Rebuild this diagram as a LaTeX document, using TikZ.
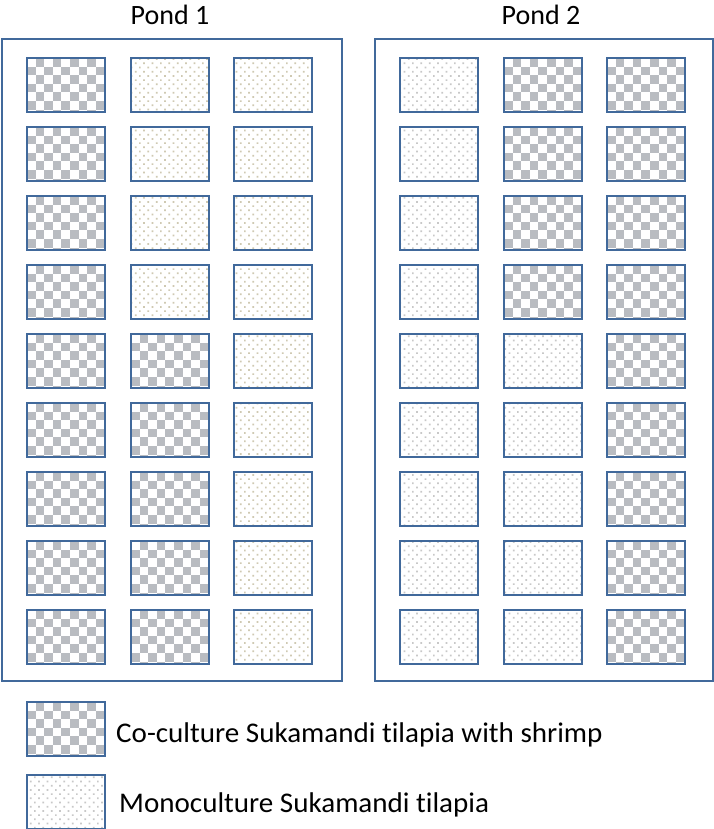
\documentclass[tikz,border=0pt]{standalone}
\usepackage{fontspec}
\setmainfont{Carlito}[Ligatures={NoCommon}]
\usetikzlibrary{patterns}
\definecolor{boxblue}{HTML}{41699B}
\definecolor{checkgray}{HTML}{B9BCC1}
\definecolor{tandot}{HTML}{CFC9B2}
\definecolor{graydot}{HTML}{C8C8C8}
\pgfdeclarepatternformonly{smalldots}{\pgfqpoint{-1pt}{-1pt}}{\pgfqpoint{9pt}{9pt}}{\pgfqpoint{8.4pt}{8.4pt}}{%
  \pgfpathrectangle{\pgfqpoint{0.4pt}{0.4pt}}{\pgfqpoint{1.7pt}{1.7pt}}%
  \pgfpathrectangle{\pgfqpoint{4.6pt}{4.6pt}}{\pgfqpoint{1.7pt}{1.7pt}}%
  \pgfusepath{fill}}
\tikzset{
  cell/.style={draw=boxblue, line width=1.8pt, minimum width=78pt, minimum height=54pt,
    inner sep=0pt, outer sep=0pt, anchor=north west},
  co/.style={cell, path picture={
      \foreach \i in {0,...,9}{\foreach \j in {0,...,6}{
          \pgfmathtruncatemacro\k{mod(\i+\j,2)}
          \ifnum\k=1
            \fill[checkgray] ([xshift=\i*8.6pt, yshift=-\j*8.6pt]path picture bounding box.north west) rectangle ++(8.6pt,-8.6pt);
          \fi}}}},
  monotan/.style={cell, pattern=smalldots, pattern color=tandot},
  monogray/.style={cell, pattern=smalldots, pattern color=graydot},
  pond/.style={draw=boxblue, line width=2pt, inner sep=0pt, outer sep=0pt, anchor=north west,
    minimum height=641pt},
  bigtxt/.style={font=\fontsize{28}{32}\selectfont, inner sep=0pt},
  legtxt/.style={font=\fontsize{28.5}{32}\selectfont, inner sep=0pt, xscale=1.02}
}
\begin{document}
\begin{tikzpicture}[x=1pt,y=-1pt]
\fill[white] (0,0) rectangle (714,829);
\useasboundingbox (0,0) rectangle (714,829);
% titles
\node[bigtxt, anchor=base] (title1) at (170,25) {Pond 1};
\node[bigtxt, anchor=base] (title2) at (541,25) {Pond 2};
% ponds
\node[pond, minimum width=340pt] (pond1) at (1.5,39.5) {};
\node[pond, minimum width=337.5pt] (pond2) at (375,39.5) {};
% cells
\foreach \r in {1,...,9}{
  \pgfmathsetmacro\yy{58+(\r-1)*69}
  \node[co] (p1-\r-1) at (27,\yy) {};
  \ifnum\r<5
    \node[monotan] (p1-\r-2) at (131,\yy) {};
    \node[co] (p2-\r-2) at (504,\yy) {};
  \else
    \node[co] (p1-\r-2) at (131,\yy) {};
    \node[monogray] (p2-\r-2) at (504,\yy) {};
  \fi
  \node[monotan] (p1-\r-3) at (234,\yy) {};
  \node[monogray] (p2-\r-1) at (400,\yy) {};
  \node[co] (p2-\r-3) at (607,\yy) {};
}
% legend
\node[co] (leg1) at (27,702) {};
\node[legtxt, anchor=base west] (leg1t) at (116,742) {Co-culture Sukamandi tilapia with shrimp};
\node[monogray] (leg2) at (27,775) {};
\node[legtxt, anchor=base west] (leg2t) at (119,812) {Monoculture Sukamandi tilapia};
\end{tikzpicture}
\end{document}
